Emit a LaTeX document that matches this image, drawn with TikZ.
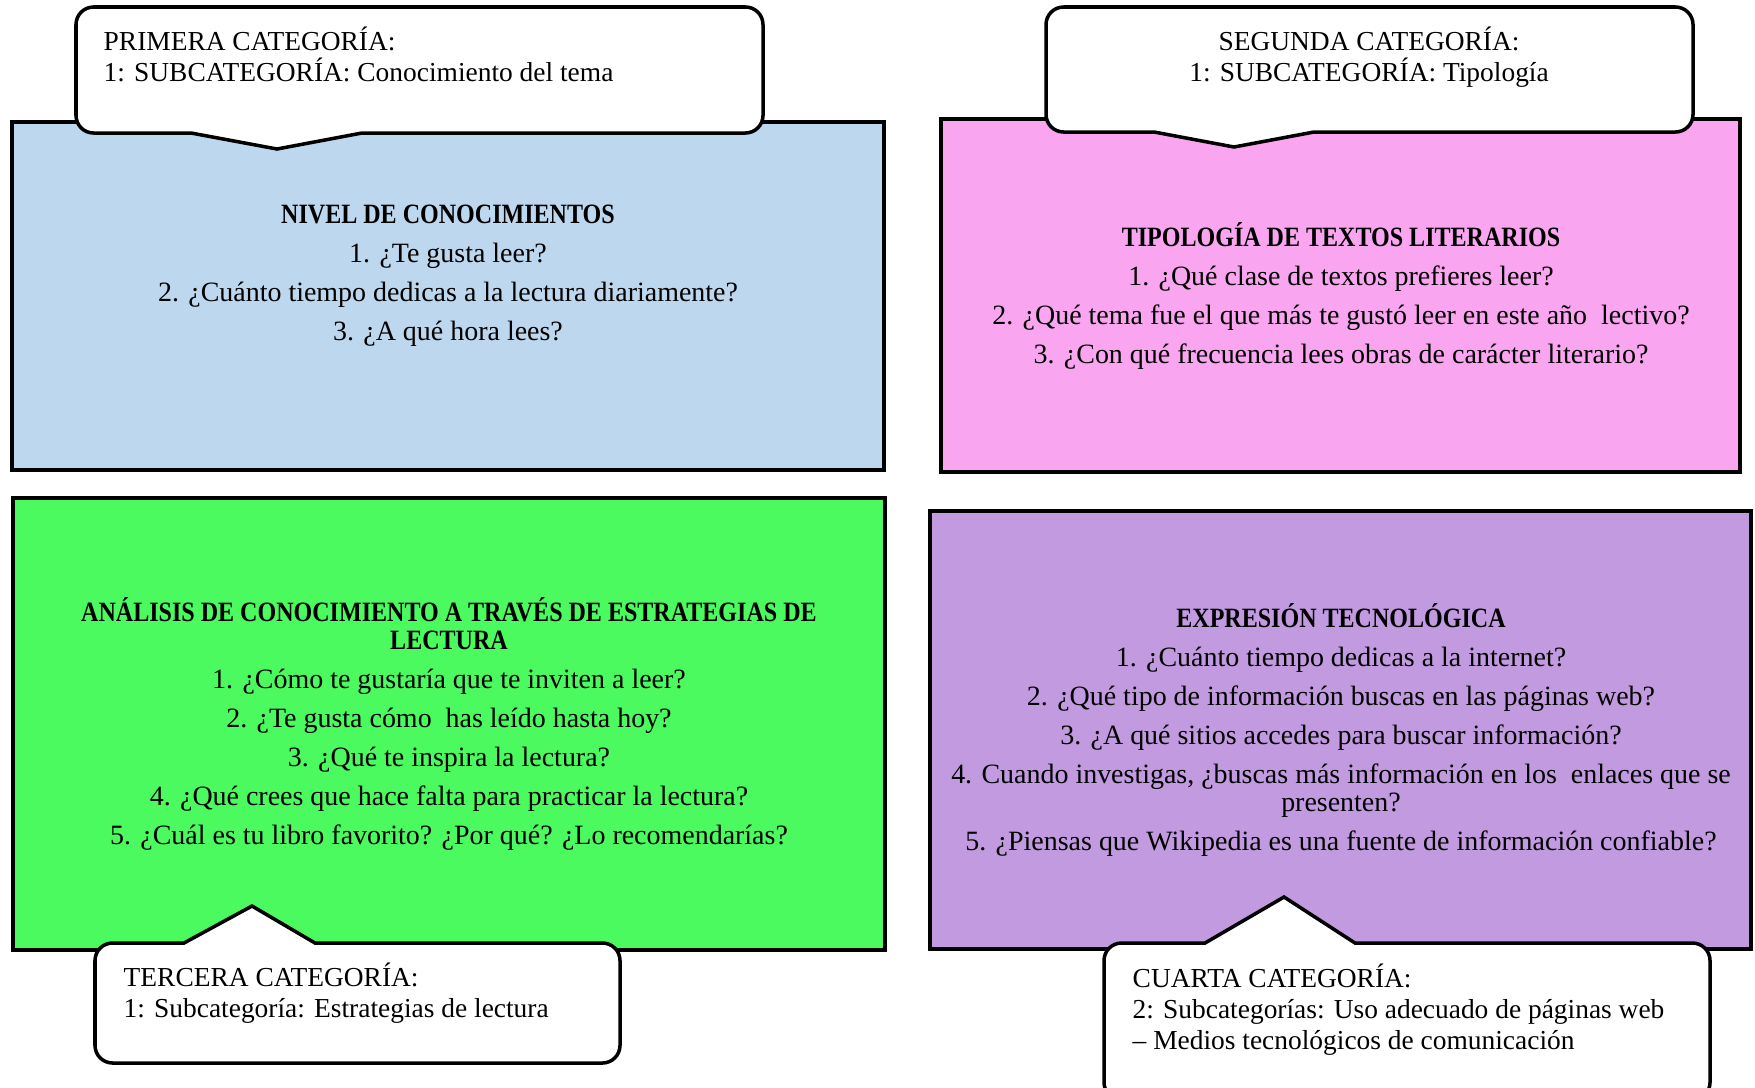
\documentclass[tikz,border=0pt]{standalone}
\usepackage{fontspec}
\setmainfont{Liberation Serif}[BoldFeatures={FakeStretch=0.86}]
\usetikzlibrary{positioning}
\definecolor{nivelblue}{RGB}{189,215,238}
\definecolor{tipopink}{RGB}{250,165,240}
\definecolor{estragreen}{RGB}{75,250,95}
\definecolor{tecpurple}{RGB}{194,154,224}

\begin{document}
\begin{tikzpicture}[x=0.01cm, y=-0.01cm,
    qbox/.style={draw=black, line width=1pt},
    callout/.style={draw=black, line width=1pt, fill=white},
    qtext/.style={align=center, inner sep=0pt, font=\fontsize{7.95}{8}\selectfont},
    ctext/.style={inner sep=0pt, font=\fontsize{7.8}{8.8}\selectfont}]
    \useasboundingbox (0,0) rectangle (1755,1087);
    \clip (0,0) rectangle (1755,1087);

    % Category boxes
    \draw[qbox, fill=nivelblue] (12,122) rectangle (884,470);
    \draw[qbox, fill=tipopink] (941,119) rectangle (1740,472);
    \draw[qbox, fill=estragreen] (13,498) rectangle (885,950);
    \draw[qbox, fill=tecpurple] (930,511) rectangle (1751,949);

    % Questions
    \node[qtext] (nivel) at (448,276) {\textbf{NIVEL DE CONOCIMIENTOS}\\[3.1pt]
        1. ¿Te gusta leer?\\[3.1pt]
        2. ¿Cuánto tiempo dedicas a la lectura diariamente?\\[3.1pt]
        3. ¿A qué hora lees?};
    \node[qtext] (tipologia) at (1341,296) {\textbf{TIPOLOGÍA DE TEXTOS LITERARIOS}\\[3.1pt]
        1. ¿Qué clase de textos prefieres leer?\\[3.1pt]
        2. ¿Qué tema fue el que más te gustó leer en este año\ \ lectivo?\\[3.1pt]
        3. ¿Con qué frecuencia lees obras de carácter literario?};
    \node[qtext] (estrategias) at (449,724) {\textbf{ANÁLISIS DE CONOCIMIENTO A TRAVÉS DE ESTRATEGIAS DE}\\
        \textbf{LECTURA}\\[3.1pt]
        1. ¿Cómo te gustaría que te inviten a leer?\\[3.1pt]
        2. ¿Te gusta cómo\ \ has leído hasta hoy?\\[3.1pt]
        3. ¿Qué te inspira la lectura?\\[3.1pt]
        4. ¿Qué crees que hace falta para practicar la lectura?\\[3.1pt]
        5. ¿Cuál es tu libro favorito? ¿Por qué? ¿Lo recomendarías?};
    \node[qtext] (tecnologia) at (1341,730) {\textbf{EXPRESIÓN TECNOLÓGICA}\\[3.1pt]
        1. ¿Cuánto tiempo dedicas a la internet?\\[3.1pt]
        2. ¿Qué tipo de información buscas en las páginas web?\\[3.1pt]
        3. ¿A qué sitios accedes para buscar información?\\[3.1pt]
        4. Cuando investigas, ¿buscas más información en los\ \ enlaces que se\\
        presenten?\\[3.1pt]
        5. ¿Piensas que Wikipedia es una fuente de información confiable?};

    % Callouts
    \draw[callout] (140,133) -- (191,133) -- (277,149) -- (362,133) -- (420,133)
        [rounded corners=5pt] -- (763,133) -- (763,7) -- (76,7) -- (76,133) -- cycle;
    \draw[callout] (1100,132) -- (1154,132) -- (1234,147) -- (1314,132) -- (1370,132)
        [rounded corners=5pt] -- (1693,132) -- (1693,7) -- (1046,7) -- (1046,132) -- cycle;
    \draw[callout] (400,943) -- (315,943) -- (252,906) -- (184,943) -- (140,943)
        [rounded corners=5pt] -- (95,943) -- (95,1063) -- (620,1063) -- (620,943) -- cycle;
    \draw[callout] (1450,943) -- (1355,943) -- (1284,897) -- (1205,943) -- (1150,943)
        [rounded corners=5pt] -- (1104,943) -- (1104,1100) -- (1710,1100) -- (1710,943) -- cycle;

    % Category labels
    \node[ctext, anchor=west, align=left] (primera) at (103,54) {PRIMERA CATEGORÍA:\\
        1: SUBCATEGORÍA: Conocimiento del tema};
    \node[ctext, align=center] (segunda) at (1369,57) {SEGUNDA CATEGORÍA:\\
        1: SUBCATEGORÍA: Tipología};
    \node[ctext, anchor=west, align=left] (tercera) at (123,993) {TERCERA CATEGORÍA:\\
        1: Subcategoría: Estrategias de lectura};
    \node[ctext, anchor=west, align=left] (cuarta) at (1132,1010) {CUARTA CATEGORÍA:\\
        2: Subcategorías: Uso adecuado de páginas web\\
        -- Medios tecnológicos de comunicación};
\end{tikzpicture}
\end{document}
